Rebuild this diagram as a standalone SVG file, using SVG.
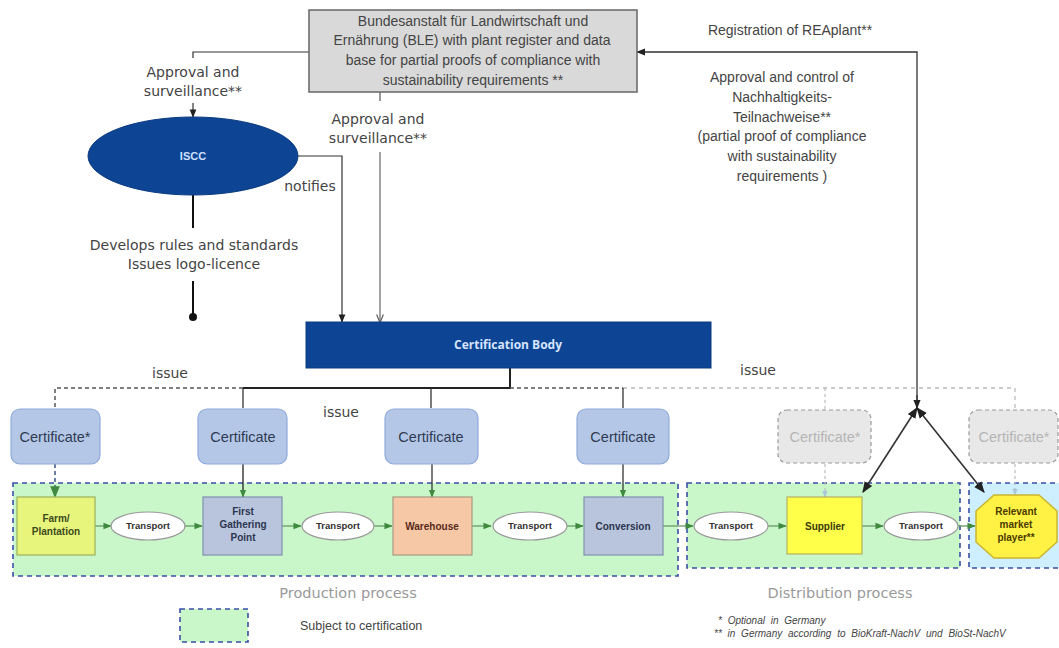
<svg xmlns="http://www.w3.org/2000/svg" width="1059" height="648" viewBox="0 0 1059 648">
<defs>
<marker id="ab" viewBox="0 0 10 10" refX="9" refY="5" markerWidth="7" markerHeight="7" orient="auto-start-reverse"><path d="M0,1 L10,5 L0,9 z" fill="#222"/></marker>
<marker id="ag" viewBox="0 0 10 10" refX="9" refY="5" markerWidth="7" markerHeight="7" orient="auto"><path d="M0,1 L10,5 L0,9" fill="none" stroke="#666" stroke-width="1.5"/></marker>
<marker id="agr" viewBox="0 0 10 10" refX="9" refY="5" markerWidth="6" markerHeight="6" orient="auto"><path d="M0,1 L10,5 L0,9 z" fill="#3f8a3f"/></marker>
<marker id="alt" viewBox="0 0 10 10" refX="9" refY="5" markerWidth="6" markerHeight="6" orient="auto"><path d="M0,1 L10,5 L0,9 z" fill="#a9c9d9"/></marker>
<marker id="dot" viewBox="0 0 10 10" refX="5" refY="5" markerWidth="5" markerHeight="5"><circle cx="5" cy="5" r="4" fill="#111"/></marker>
</defs>
<style>
.lbl{font-family:"DejaVu Sans",sans-serif;font-size:14px;fill:#444;text-anchor:middle}
.arial{font-family:"Liberation Sans",Arial,sans-serif;font-size:14px;fill:#444;text-anchor:middle}
.cert{fill:#b4c7e7;stroke:#8faadc;stroke-width:1.2}
.certg{fill:#e8e8e8;stroke:#9a9a9a;stroke-width:1.2;stroke-dasharray:4,3}
.ct{font-family:"Liberation Sans",Arial,sans-serif;font-size:14.5px;fill:#2f3b52;text-anchor:middle}
.ctg{font-family:"Liberation Sans",Arial,sans-serif;font-size:14.5px;fill:#b5b5b5;text-anchor:middle}
.nt{font-family:"Liberation Sans",Arial,sans-serif;font-size:10px;font-weight:bold;text-anchor:middle}
.tr{fill:#fff;stroke:#999;stroke-width:1.2}
.tt{font-family:"Liberation Sans",Arial,sans-serif;font-size:9.5px;font-weight:bold;fill:#333;text-anchor:middle}
.flow{stroke:#6f9f6f;stroke-width:1.4;fill:none}
.region{stroke:#3a4fa8;stroke-width:1.6;stroke-dasharray:5,4}
.proc{font-family:"DejaVu Sans",sans-serif;font-size:14.5px;fill:#9a9a9a;text-anchor:middle}
.foot{font-family:"Liberation Sans",Arial,sans-serif;font-size:10px;font-style:italic;fill:#444;word-spacing:3px}
</style>

<g id="regions">
<rect x="13" y="483" width="665" height="93" fill="#c9f7c9" class="region"/>
<rect x="687" y="483" width="273" height="85" fill="#c9f7c9" class="region"/>
<rect x="969" y="483" width="92" height="85" fill="#cdefff" class="region"/>
</g>

<g id="connectors">
<path d="M309,52 H193 V58" fill="none" stroke="#333" stroke-width="1.2"/>
<path d="M193,103 V117" fill="none" stroke="#333" stroke-width="1.2" marker-end="url(#ab)"/>
<path d="M297,156 H342 V322" fill="none" stroke="#333" stroke-width="1.2" marker-end="url(#ab)"/>
<path d="M193,195 V228" stroke="#111" stroke-width="2"/>
<path d="M193,281 V317" stroke="#111" stroke-width="2" marker-end="url(#dot)"/>
<path d="M380,92 V101" stroke="#555" stroke-width="1.2"/>
<path d="M380,152 V322" fill="none" stroke="#666" stroke-width="1.2" marker-end="url(#ag)"/>
<path d="M917,408 V52 H637" fill="none" stroke="#333" stroke-width="1.3" marker-end="url(#ab)"/>
<path d="M917,408 L863,492" fill="none" stroke="#333" stroke-width="1.6" marker-start="url(#ab)" marker-end="url(#ab)"/>
<path d="M917,408 L984,492" fill="none" stroke="#333" stroke-width="1.6" marker-start="url(#ab)" marker-end="url(#ab)"/>
<path d="M917,395 V408" stroke="#333" stroke-width="1.3" marker-end="url(#ab)"/>
<path d="M510,368 V388 H243" fill="none" stroke="#222" stroke-width="2"/>
<path d="M243,388 H55 V408" fill="none" stroke="#555" stroke-width="1.5" stroke-dasharray="4,3"/>
<path d="M510,388 H623" fill="none" stroke="#555" stroke-width="1.5" stroke-dasharray="4,3"/>
<path d="M623,388 H1015 V408" fill="none" stroke="#bbb" stroke-width="1.3" stroke-dasharray="4,4"/>
<path d="M825,388 V410" fill="none" stroke="#bbb" stroke-width="1.2" stroke-dasharray="3,3"/>
<path d="M243,388 V408" stroke="#333" stroke-width="1.3"/>
<path d="M431,388 V408" stroke="#333" stroke-width="1.3"/>
<path d="M623,388 V408" stroke="#333" stroke-width="1.3"/>
<path d="M55,464 V497" stroke="#6b7fa0" stroke-width="2" stroke-dasharray="4,3" marker-end="url(#agr)"/>
<path d="M243,464 V497" stroke="#222" stroke-width="1.3" marker-end="url(#agr)"/>
<path d="M432,464 V497" stroke="#333" stroke-width="1.3" marker-end="url(#agr)"/>
<path d="M623,464 V497" stroke="#333" stroke-width="1.3" marker-end="url(#agr)"/>
<path d="M825,464 V497" stroke="#bbb" stroke-width="1.2" stroke-dasharray="3,3" marker-end="url(#alt)"/>
<path d="M1015,464 V495" stroke="#bbb" stroke-width="1.2" stroke-dasharray="3,3" marker-end="url(#alt)"/>
<path class="flow" d="M95,526 H111" marker-end="url(#agr)"/>
<path class="flow" d="M185,526 H202" marker-end="url(#agr)"/>
<path class="flow" d="M282,526 H301" marker-end="url(#agr)"/>
<path class="flow" d="M373,526 H392" marker-end="url(#agr)"/>
<path class="flow" d="M472,526 H491" marker-end="url(#agr)"/>
<path class="flow" d="M567,526 H583" marker-end="url(#agr)"/>
<path class="flow" d="M663,526 H693" marker-end="url(#agr)"/>
<path class="flow" d="M768,526 H786" marker-end="url(#agr)"/>
<path class="flow" d="M862,526 H883" marker-end="url(#agr)"/>
<path class="flow" d="M958,526 H975" marker-end="url(#agr)"/>
</g>

<g id="labels">
<text class="lbl" x="193" y="77">Approval and</text>
<text class="lbl" x="193" y="96">surveillance**</text>
<text class="lbl" x="378" y="124">Approval and</text>
<text class="lbl" x="378" y="143">surveillance**</text>
<text class="lbl" x="310" y="191">notifies</text>
<text class="lbl" x="194" y="250">Develops rules and standards</text>
<text class="lbl" x="194" y="269">Issues logo-licence</text>
<text class="arial" x="790" y="35">Registration of REAplant**</text>
<text class="arial" x="782" y="82">Approval and control of</text>
<text class="arial" x="782" y="102">Nachhaltigkeits-</text>
<text class="arial" x="782" y="122">Teilnachweise**</text>
<text class="arial" x="782" y="141">(partial proof of compliance</text>
<text class="arial" x="782" y="161">with sustainability</text>
<text class="arial" x="782" y="181">requirements )</text>
<text class="lbl" x="170" y="378">issue</text>
<text class="lbl" x="341" y="417">issue</text>
<text class="lbl" x="758" y="375">issue</text>
</g>

<g id="ble">
<rect x="309" y="10" width="328" height="82" fill="#d9d9d9" stroke="#666" stroke-width="1.5"/>
<text class="arial" x="473" y="26" fill="#333">Bundesanstalt für Landwirtschaft und</text>
<text class="arial" x="472" y="45">Ernährung (BLE) with plant register and data</text>
<text class="arial" x="473" y="65">base for partial proofs of compliance with</text>
<text class="arial" x="473" y="85">sustainability requirements **</text>
</g>

<g id="iscc">
<ellipse cx="193" cy="156" rx="105" ry="39" fill="#0d4594" stroke="#0a3a80" stroke-width="1"/>
<text x="193" y="160" font-family="Liberation Sans, Arial, sans-serif" font-size="11" font-weight="bold" fill="#cfe0ff" text-anchor="middle">ISCC</text>
</g>

<g id="certbody">
<rect x="306" y="322" width="405" height="46" fill="#0d4594" stroke="#0a3a80" stroke-width="1"/>
<text x="508" y="349" font-family="Open Sans, Liberation Sans, sans-serif" font-size="12" font-weight="bold" fill="#d6e4ff" text-anchor="middle">Certification Body</text>
</g>

<g id="cert1"><rect class="cert" x="11" y="409" width="89" height="55" rx="9"/><text class="ct" x="55" y="442">Certificate*</text></g>
<g id="cert2"><rect class="cert" x="198" y="409" width="89" height="55" rx="9"/><text class="ct" x="243" y="442">Certificate</text></g>
<g id="cert3"><rect class="cert" x="385" y="409" width="93" height="55" rx="9"/><text class="ct" x="431" y="442">Certificate</text></g>
<g id="cert4"><rect class="cert" x="577" y="409" width="92" height="55" rx="9"/><text class="ct" x="623" y="442">Certificate</text></g>
<g id="cert5"><rect class="certg" x="778" y="410" width="93" height="53" rx="9"/><text class="ctg" x="825" y="442">Certificate*</text></g>
<g id="cert6"><rect class="certg" x="969" y="410" width="89" height="53" rx="9"/><text class="ctg" x="1014" y="442">Certificate*</text></g>

<g id="farm"><rect x="17" y="497" width="78" height="58" fill="#e8f57c" stroke="#9bb05a" stroke-width="1.2"/><text class="nt" x="56" y="522" fill="#3c4a1c">Farm/</text><text class="nt" x="56" y="535" fill="#3c4a1c">Plantation</text></g>
<g id="t1"><ellipse class="tr" cx="148" cy="526" rx="37" ry="14"/><text class="tt" x="148" y="529">Transport</text></g>
<g id="fgp"><rect x="203" y="497" width="79" height="58" fill="#b9c5dd" stroke="#7f8fae" stroke-width="1.2"/><text class="nt" x="243" y="515" fill="#2c3550">First</text><text class="nt" x="243" y="528" fill="#2c3550">Gathering</text><text class="nt" x="243" y="541" fill="#2c3550">Point</text></g>
<g id="t2"><ellipse class="tr" cx="338" cy="526" rx="36" ry="14"/><text class="tt" x="338" y="529">Transport</text></g>
<g id="warehouse"><rect x="393" y="497" width="79" height="58" fill="#f6c8a6" stroke="#a89a80" stroke-width="1.2"/><text class="nt" x="432" y="530" fill="#5a2a1a">Warehouse</text></g>
<g id="t3"><ellipse class="tr" cx="530" cy="526" rx="37" ry="14"/><text class="tt" x="530" y="529">Transport</text></g>
<g id="conversion"><rect x="584" y="497" width="79" height="58" fill="#b9c5dd" stroke="#7f8fae" stroke-width="1.2"/><text class="nt" x="623" y="530" fill="#2c3550">Conversion</text></g>
<g id="t4"><ellipse class="tr" cx="731" cy="526" rx="37" ry="14"/><text class="tt" x="731" y="529">Transport</text></g>
<g id="supplier"><rect x="787" y="497" width="75" height="57" fill="#ffff4a" stroke="#b5b060" stroke-width="1.2"/><text class="nt" x="825" y="530" fill="#3a3a10">Supplier</text></g>
<g id="t5"><ellipse class="tr" cx="921" cy="526" rx="37" ry="14"/><text class="tt" x="921" y="529">Transport</text></g>
<g id="market"><polygon points="994,495 1039,495 1057,511 1057,542 1039,558 994,558 976,542 976,511" fill="#fff244" stroke="#c9b530" stroke-width="1.5"/><text class="nt" x="1016" y="515" fill="#4a3a00" font-size="9.5">Relevant</text><text class="nt" x="1016" y="528" fill="#4a3a00" font-size="9.5">market</text><text class="nt" x="1016" y="541" fill="#4a3a00" font-size="9.5">player**</text></g>

<g id="process-labels">
<text class="proc" x="348" y="598">Production process</text>
<text class="proc" x="840" y="598">Distribution process</text>
</g>

<g id="legend">
<rect x="180" y="609" width="68" height="33" fill="#c9f7c9" class="region"/>
<text x="300" y="630" font-family="Liberation Sans, Arial, sans-serif" font-size="12.5" fill="#444">Subject to certification</text>
<text class="foot" x="718" y="624">*    Optional  in Germany</text>
<text class="foot" x="714" y="637">** in Germany according  to BioKraft-NachV  und BioSt-NachV</text>
</g>
</svg>
